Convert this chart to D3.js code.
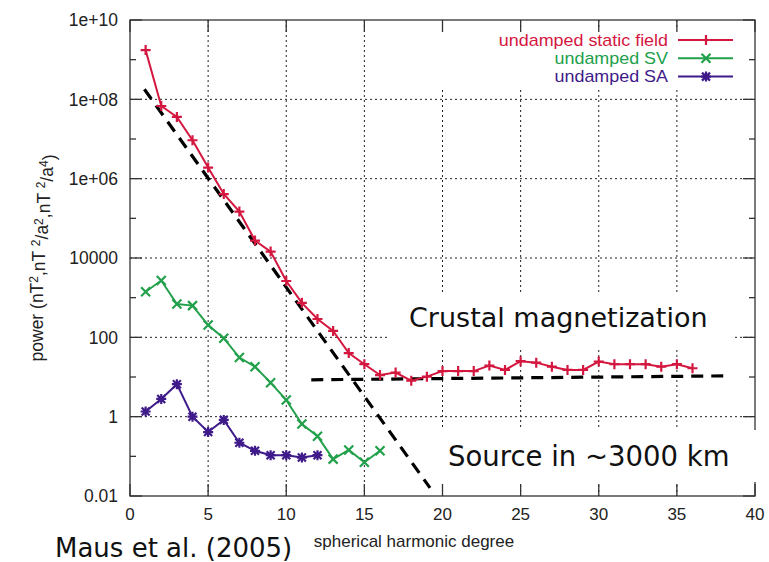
<!DOCTYPE html>
<html>
<head>
<meta charset="utf-8">
<script src="https://cdn.jsdelivr.net/npm/d3@7.9.0/dist/d3.min.js"></script>
<style>
  body { margin: 0; background: #fff; }
  text { font-family: "Liberation Sans", Arial, sans-serif; }
  .big { font-family: "DejaVu Sans", Verdana, sans-serif; }
</style>
</head>
<body>
<svg id="chart" width="769" height="562"></svg>
<script>
// spherical harmonic degree for each series
const degStatic = d3.range(1, 37);
const degSV = d3.range(1, 17);
const degSA = d3.range(1, 13);

// power spectra
const staticField = [1.74e9, 6.8e7, 3.6e7, 9.3e6, 1.9e6, 4.1e5, 1.48e5, 2.75e4, 1.45e4, 2630,
  740, 290, 145, 40, 21, 11.2, 12.9, 8.1, 10.2, 14.1, 14.1, 14.1, 19.5, 15.1, 25, 23,
  18.2, 15.1, 15.1, 24.5, 21, 21, 21, 18.2, 21, 16.6];
const secularVariation = [1410, 2700, 690, 630, 204, 95, 31, 18.2, 7.2, 2.63, 0.65, 0.32,
  0.085, 0.145, 0.071, 0.138];
const secularAcceleration = [1.35, 2.8, 6.6, 1.0, 0.41, 0.83, 0.22, 0.138, 0.107, 0.107, 0.093, 0.107];

// fitted trends (dashed lines)
const coreFit = [[0.92, 1.8e8], [19.2, 0.016]];
const crustFit = [[11.6, 8.5], [38.4, 10.7]];

const xTicks = [0, 5, 10, 15, 20, 25, 30, 35, 40];
const yTicks = [1e10, 1e8, 1e6, 1e4, 100, 1, 0.01];
const yTickLabels = ["1e+10", "1e+08", "1e+06", "10000", "100", "1", "0.01"];
const yMinorTicks = [1e9, 1e7, 1e5, 1000, 10, 0.1];

const series = [
  { name: "undamped static field", deg: degStatic, val: staticField, color: "#d4173f", marker: "plus" },
  { name: "undamped SV", deg: degSV, val: secularVariation, color: "#22a04b", marker: "cross" },
  { name: "undamped SA", deg: degSA, val: secularAcceleration, color: "#3f1a8a", marker: "star" }
];

const svg = d3.select("#chart");
const plotLeft = 130, plotRight = 755, plotTop = 20, plotBottom = 496;

const x = d3.scaleLinear().domain([0, 40]).range([plotLeft, plotRight]);
const y = d3.scaleLog().domain([0.01, 1e10]).range([plotBottom, plotTop]);

// grid
const grid = svg.append("g").attr("stroke", "#222").attr("stroke-width", 1)
  .attr("stroke-dasharray", "2,3");
grid.selectAll(".gx").data(xTicks.slice(1, -1)).enter().append("line")
  .attr("x1", d => x(d)).attr("x2", d => x(d)).attr("y1", plotTop).attr("y2", plotBottom);
grid.selectAll(".gy").data(yTicks.slice(1, -1)).enter().append("line")
  .attr("y1", d => y(d)).attr("y2", d => y(d)).attr("x1", plotLeft).attr("x2", plotRight);

// white boxes behind annotations
svg.append("rect").attr("x", 390).attr("y", 292).attr("width", 342).attr("height", 55).attr("fill", "#fff");
svg.append("rect").attr("x", 436).attr("y", 28).attr("width", 312).attr("height", 59).attr("fill", "#fff");

// border and ticks
const axis = svg.append("g").attr("stroke", "#333").attr("stroke-width", 1.3);
axis.append("rect").attr("x", plotLeft).attr("y", plotTop)
  .attr("width", plotRight - plotLeft).attr("height", plotBottom - plotTop).attr("fill", "none");
xTicks.forEach(t => {
  axis.append("line").attr("x1", x(t)).attr("x2", x(t)).attr("y1", plotBottom).attr("y2", plotBottom - 12);
  axis.append("line").attr("x1", x(t)).attr("x2", x(t)).attr("y1", plotTop).attr("y2", plotTop + 12);
});
yTicks.forEach(t => {
  axis.append("line").attr("x1", plotLeft).attr("x2", plotLeft + 12).attr("y1", y(t)).attr("y2", y(t));
  axis.append("line").attr("x1", plotRight).attr("x2", plotRight - 12).attr("y1", y(t)).attr("y2", y(t));
});
yMinorTicks.forEach(t => {
  axis.append("line").attr("x1", plotLeft).attr("x2", plotLeft + 6).attr("y1", y(t)).attr("y2", y(t));
  axis.append("line").attr("x1", plotRight).attr("x2", plotRight - 6).attr("y1", y(t)).attr("y2", y(t));
});

// tick labels
svg.selectAll(".xl").data(xTicks).enter().append("text")
  .attr("x", d => x(d)).attr("y", 520).attr("text-anchor", "middle")
  .style("font-size", "17px").attr("fill", "#222").text(d => d);
svg.selectAll(".yl").data(yTicks).enter().append("text")
  .attr("x", 118).attr("y", d => y(d)).attr("dy", "0.36em").attr("text-anchor", "end")
  .style("font-size", "17.5px").attr("fill", "#222").text((d, i) => yTickLabels[i]);

// axis titles
svg.append("text").attr("x", 414).attr("y", 547).attr("text-anchor", "middle")
  .style("font-size", "17px").attr("fill", "#222").text("spherical harmonic degree");

const yt = svg.append("text").attr("transform", "translate(43,258) rotate(-90)")
  .attr("text-anchor", "middle").style("font-size", "17.5px").attr("fill", "#222");
const parts = [["power (nT", 0], ["2", 1], [",nT ", 0], ["2", 1], ["/a", 0], ["2", 1],
  [",nT ", 0], ["2", 1], ["/a", 0], ["4", 1], [")", 0]];
parts.forEach(([s, sup], i) => {
  const ts = yt.append("tspan").text(s);
  if (sup) ts.attr("dy", "-0.45em").style("font-size", "12px");
  else if (i > 0) ts.attr("dy", "0.45em");
});

// dashed fits
const line = d3.line().x(d => x(d[0])).y(d => y(d[1]));
[coreFit, crustFit].forEach(f => {
  svg.append("path").attr("d", line(f)).attr("fill", "none").attr("stroke", "#000")
    .attr("stroke-width", 3.2).attr("stroke-dasharray", "12,8");
});

// markers
const markerPath = {
  plus: "M-5,0H5M0,-5V5",
  cross: "M-4.5,-4.5L4.5,4.5M-4.5,4.5L4.5,-4.5",
  star: "M-5,0H5M0,-5V5M-4,-4L4,4M-4,4L4,-4"
};

series.forEach(s => {
  const pts = s.deg.map((d, i) => [d, s.val[i]]);
  svg.append("path").attr("d", line(pts)).attr("fill", "none")
    .attr("stroke", s.color).attr("stroke-width", 2);
  svg.append("g").selectAll("path").data(pts).enter().append("path")
    .attr("transform", d => `translate(${x(d[0])},${y(d[1])})`)
    .attr("d", markerPath[s.marker]).attr("stroke", s.color).attr("stroke-width", 2.2)
    .attr("fill", "none");
});

// legend (text is slightly wide in the original, so stretch it a bit)
const lg = svg.append("g");
series.forEach((s, i) => {
  const cy = 40 + i * 18.3;
  lg.append("text").attr("transform", `translate(668,${cy}) scale(1.12,1)`)
    .attr("dy", "0.35em").attr("text-anchor", "end")
    .style("font-size", "16px").attr("fill", s.color).text(s.name);
  lg.append("line").attr("x1", 678).attr("x2", 733).attr("y1", cy).attr("y2", cy)
    .attr("stroke", s.color).attr("stroke-width", 2);
  lg.append("path").attr("transform", `translate(706,${cy})`).attr("d", markerPath[s.marker])
    .attr("stroke", s.color).attr("stroke-width", 2.2);
});

// annotations
svg.append("text").attr("class", "big").attr("x", 409).attr("y", 327)
  .style("font-size", "27px").attr("fill", "#111").text("Crustal magnetization");

svg.append("rect").attr("x", 437).attr("y", 430).attr("width", 330).attr("height", 52).attr("fill", "#fff");
svg.append("text").attr("class", "big").attr("x", 448).attr("y", 466)
  .style("font-size", "27.5px").attr("fill", "#111").text("Source in ~3000 km");

svg.append("text").attr("class", "big").attr("x", 55).attr("y", 557)
  .style("font-size", "26px").attr("fill", "#111").text("Maus et al. (2005)");
</script>
</body>
</html>
